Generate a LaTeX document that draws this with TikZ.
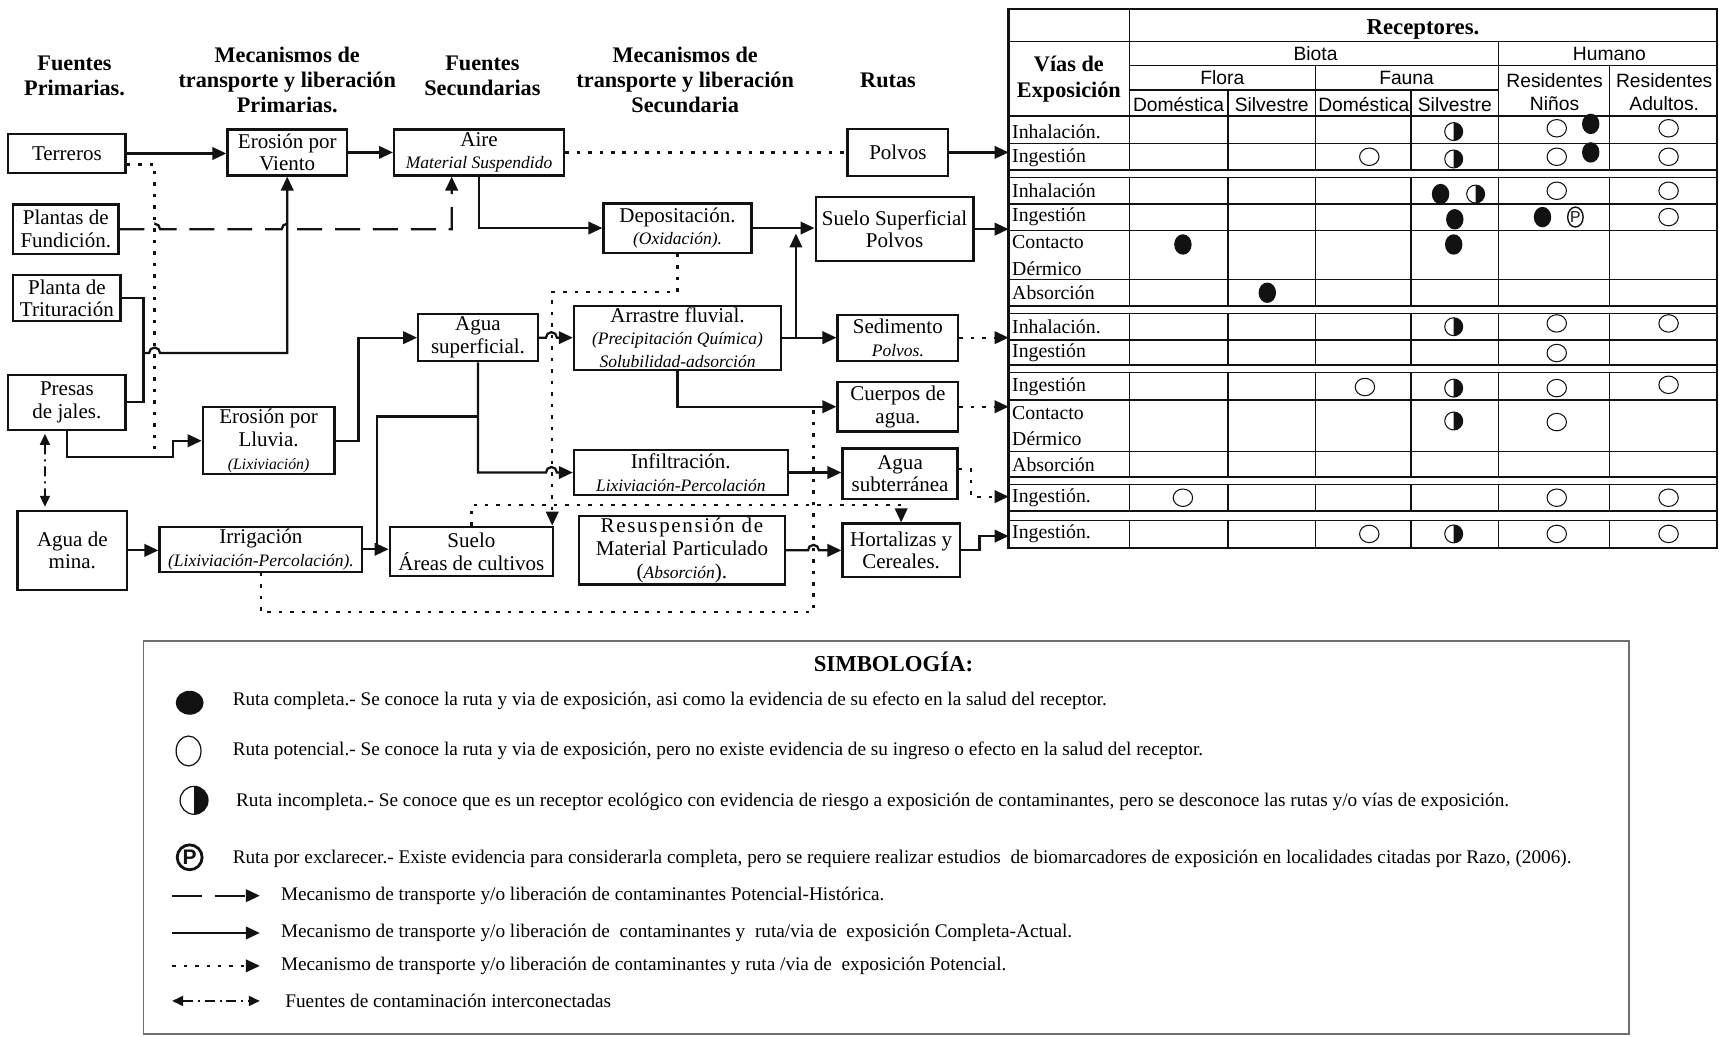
\documentclass[tikz,border=0pt]{standalone}
\usepackage{fontspec}
\setmainfont{Liberation Serif}
\setsansfont{Liberation Sans}
\usepackage{tikz}
\usetikzlibrary{arrows.meta,calc}
\definecolor{ink}{HTML}{121212}
\definecolor{lgry}{HTML}{6F6F6F}
\newcommand{\fsz}[2]{\fontsize{#1}{#2}\selectfont}
\newcommand{\subtx}[1]{{\itshape\fsz{10}{11}#1}}
\newcommand{\symfull}[1]{\fill[ink] (#1) ellipse [x radius=1.75mm, y radius=2.05mm];}
\newcommand{\symopen}[1]{\draw[ink, line width=0.6pt] (#1) ellipse [x radius=1.95mm, y radius=1.75mm];}
\newcommand{\symhalf}[1]{\draw[ink, line width=0.6pt, fill=white] (#1) circle [radius=1.8mm];
  \fill[ink] (#1) ++(90:1.8mm) arc [start angle=90, end angle=-90, radius=1.8mm] -- cycle;}
\newcommand{\symp}[1]{\draw[ink, line width=0.8pt] (#1) ellipse [x radius=1.55mm, y radius=2mm]
  node[font=\sffamily\fsz{9}{9}] {P};}
\tikzset{
  box/.style   ={draw=ink, line width=1.3pt, align=center, inner sep=1pt,
                 font=\fsz{12}{13}},
  sz/.style 2 args={minimum width=#1*0.022cm, minimum height=#2*0.022cm},
  head/.style  ={align=center, font=\bfseries\fsz{12.7}{14.4}},
  hd/.style    ={align=center, font=\sffamily\fsz{11}{13}},
  rowl/.style  ={anchor=west, inner sep=0pt, font=\fsz{11.3}{12}},
  lgtx/.style  ={anchor=west, inner sep=0pt, font=\fsz{11}{12}},
  link/.style  ={line width=1.3pt, draw=ink},
  flow/.style  ={link, -{Triangle[length=2.8mm,width=2.5mm]}},
  plink/.style ={link, dash pattern=on 0.7mm off 1.6mm},
  pflow/.style ={flow, dash pattern=on 0.7mm off 1.6mm},
  hflow/.style ={flow, dash pattern=on 5mm off 2.6mm},
  iflow/.style ={line width=1pt, draw=ink, dash pattern=on 2mm off 1mm on 0.4mm off 1mm,
                 {Triangle[length=2.2mm,width=2mm]}-{Triangle[length=2.2mm,width=2mm]}},
  grid/.style  ={line width=0.8pt, draw=ink},
  frame/.style ={line width=1.4pt, draw=ink},
}
\begin{document}
\begin{tikzpicture}[x=0.022cm, y=-0.022cm]
  \useasboundingbox (0,0) rectangle (1568,945);

  \node[head] (hfp) at (68,69)  {Fuentes\\Primarias.};
  \node[head] (hmp) at (262,73) {Mecanismos de\\transporte y liberación\\Primarias.};
  \node[head] (hfs) at (440,69) {Fuentes\\Secundarias};
  \node[head] (hms) at (625,73) {Mecanismos de\\transporte y liberación\\Secundaria};
  \node[head] (hru) at (810,73) {Rutas};

  \node[box, sz={107}{36}] (ter)  at (61,140)  {Terreros};
  \node[box, sz={96}{45}]  (fun)  at (60,209)  {Plantas de\\Fundición.};
  \node[box, sz={98}{42}]  (tri)  at (61,272)  {Planta de\\Trituración};
  \node[box, sz={107}{50}] (pre)  at (61,367)  {Presas\\de jales.};
  \node[box, sz={100}{72}] (amin) at (66,502)  {Agua de\\mina.};
  \node[box, sz={109}{42}] (vie)  at (262,139) {Erosión por\\Viento};
  \node[box, sz={120}{56}] (llu)  at (245,402) {Erosión por\\Lluvia.\\{\itshape\fsz{9}{10}(Lixiviación)}};
  \node[box, sz={185}{41}] (irr)  at (238,501) {Irrigación\\\subtx{(Lixiviación-Percolación).}};
  \node[box, sz={155}{42}] (aire) at (437,139) {Aire\\\subtx{Material Suspendido}};
  \node[box, sz={109}{43}] (asup) at (436,308) {Agua\\superficial.};
  \node[box, sz={149}{45}] (scul) at (430,503) {Suelo\\Áreas de cultivos};
  \node[box, sz={135}{45}] (dep)  at (618,208) {Depositación.\\\subtx{(Oxidación).}};
  \node[box, sz={189}{57}] (arr)  at (618,308) {Arrastre fluvial.\\\subtx{(Precipitación Química)}\\\subtx{Solubilidad-adsorción}};
  \node[box, sz={195}{41}] (inf)  at (621,431) {Infiltración.\\\subtx{Lixiviación-Percolación}};
  \node[box, sz={188}{60}] (res)  at (622,502) {{\addfontfeature{LetterSpace=8}Resuspensión de}\\Material Particulado\\(\subtx{Absorción}).};
  \node[box, sz={92}{43}]  (pol)  at (819,139) {Polvos};
  \node[box, sz={144}{58}] (ssup) at (816,209) {Suelo Superficial\\Polvos};
  \node[box, sz={110}{42}] (sed)  at (819,308) {Sedimento\\\subtx{Polvos.}};
  \node[box, sz={110}{45}] (cue)  at (819,371) {Cuerpos de\\agua.};
  \node[box, sz={105}{46}] (asub) at (821,432) {Agua\\subterránea};
  \node[box, sz={107}{49}] (hor)  at (822,502) {Hortalizas y\\Cereales.};

  \coordinate (jA) at (726,308);
  \coordinate (v1) at (920,139);
  \coordinate (v2) at (920,209);
  \coordinate (v3) at (920,308);
  \coordinate (v4) at (920,371);
  \coordinate (v5) at (920,453);
  \coordinate (v6) at (920,489);

  \draw[flow]  (ter.east) -- (ter.east -| vie.west);
  \draw[plink] ($(ter.east)+(0,10)$) -- (141,150) -- (141,417);
  \draw[hflow] (fun.east) -- (136,209) arc [start angle=180, end angle=0, radius=1.1mm]
               -- (257,209) arc [start angle=180, end angle=0, radius=1.1mm]
               -- (412,209) -- (412,209 |- aire.south);
  \draw[link]  (tri.east) -| (131,367) -- (pre.east);
  \draw[flow]  (131,322) -- (136,322) arc [start angle=180, end angle=0, radius=1.1mm]
               -- (262,322) -- (vie.south);
  \draw[flow]  (pre.south) -- (61,417) -- (158,417) |- (llu.west);
  \draw[iflow] ([xshift=-4.4mm,yshift=-0.6mm]pre.south) -- ([xshift=-5.5mm,yshift=0.6mm]amin.north);
  \draw[flow]  (amin.east) -- (amin.east -| irr.west);
  \draw[flow]  (irr.east) -- (irr.east -| scul.west);
  \draw[flow]  (llu.east) -- ++(21,0) |- (asup.west);
  \draw[link]  (asup.south |- 0,380) -- (344,380) -- (344,501);
  \draw[flow]  (asup.south) -- (436,431) -- (498,431) arc [start angle=180, end angle=0, radius=1.1mm]
               -- (inf.west);
  \draw[flow]  (asup.east) -- (498,308) arc [start angle=180, end angle=0, radius=1.1mm] -- (arr.west);
  \draw[flow]  (vie.east) -- (aire.west);
  \draw[flow]  (aire.south) |- (dep.west);
  \draw[plink] (aire.east) -- (pol.west);
  \draw[flow]  (dep.east) -- (dep.east -| ssup.west);
  \draw[flow]  (arr.east) -- (sed.west);
  \draw[flow]  (jA) -- (jA |- 0,213);
  \draw[flow]  (arr.south) |- (cue.west);
  \draw[pflow] (dep.south) -- ++(0,35) -| ([xshift=-0.4mm]scul.north east);
  \draw[pflow] (scul.north) -- ++(0,-19) -| (hor.north);
  \draw[plink] (irr.south) -- ++(0,36) -| (742,374);
  \draw[flow]  (res.east) -- (737,502) arc [start angle=180, end angle=0, radius=1.1mm] -- (hor.west);
  \draw[flow]  (inf.east) -- (inf.east -| asub.west);

  \draw[flow]  (pol.east) -- (v1);
  \draw[flow]  (ssup.east) -- (v2);
  \draw[pflow] (sed.east) -- (v3);
  \draw[pflow] (cue.east) -- (v4);
  \draw[pflow] ([yshift=0.9mm]asub.east) -- ++(11,0) |- (v5);
  \draw[flow]  (hor.east) -- ++(17,0) |- (v6);

  \draw[grid] (920,38) -- (1566,38) (1030,60) -- (1566,60) (1030,82) -- (1367,82);
  \draw[grid] (1030,8) -- (1030,106) (1367,38) -- (1367,106) (1200,60) -- (1200,106)
              (1468,60) -- (1468,106) (1120,82) -- (1120,106) (1287,82) -- (1287,106);
  \foreach \a/\b in {106/155,162/279,286/333,340/435,442/466,475/500}{
    \draw[grid] (920,\a) -- (1566,\a) (920,\b) -- (1566,\b);
    \foreach \c in {1030,1120,1200,1287,1367,1468} \draw[grid] (\c,\a) -- (\c,\b);
  }
  \foreach \r in {131,186,210,255,310,365,412} \draw[grid] (920,\r) -- (1566,\r);
  \draw[frame] (920,106) -- (1566,106);
  \draw[frame] (920,8) rectangle (1566,500);

  \node[font=\bfseries\fsz{13}{14}] (rec) at (1298,27) {Receptores.};
  \node[font=\bfseries\fsz{12.7}{15}, align=center] (via) at (975,72) {Vías de\\Exposición};
  \node[hd] (bio) at (1200,49) {Biota};
  \node[hd] (hum) at (1468,49) {Humano};
  \node[hd] (flo) at (1115,71) {Flora};
  \node[hd] (fau) at (1283,71) {Fauna};
  \node[hd] (rni) at (1418,84) {Residentes\\Niños};
  \node[hd] (rad) at (1518,84) {Residentes\\Adultos.};
  \node[hd] (fdo) at (1075,95) {Doméstica};
  \node[hd] (fsi) at (1160,95) {Silvestre};
  \node[hd] (ado) at (1244,95) {Doméstica};
  \node[hd] (asi) at (1327,95) {Silvestre};

  \foreach \t/\y [count=\i] in {Inhalación./120, Ingestión/144, Inhalación/174, Ingestión/198,
      Contacto/221, Dérmico/245, Absorción/267, Inhalación./298, Ingestión/322, Ingestión/353,
      Contacto/377, Dérmico/400, Absorción/424, Ingestión./454, Ingestión./487}
    \node[rowl] (r\i) at (923,\y) {\t};

  \symhalf{1326,120} \symopen{1420,117} \symfull{1451,113} \symopen{1522,117}
  \symopen{1249,143} \symhalf{1326,145} \symopen{1420,143} \symfull{1451,139} \symopen{1522,143}
  \symfull{1314,177} \symhalf{1346,177} \symopen{1420,174} \symopen{1522,174}
  \symfull{1327,200} \symfull{1407,198} \symp{1437,198} \symopen{1522,198}
  \symfull{1079,223} \symfull{1326,223}
  \symfull{1156,267}
  \symhalf{1326,298} \symopen{1420,295} \symopen{1522,295}
  \symopen{1420,322}
  \symopen{1245,353} \symhalf{1326,354} \symopen{1420,354} \symopen{1522,351}
  \symhalf{1326,384} \symopen{1420,385}
  \symopen{1079,454} \symopen{1420,454} \symopen{1522,454}
  \symopen{1249,487} \symhalf{1326,487} \symopen{1420,487} \symopen{1522,487}

  \draw[lgry, line width=1pt] (131,585) rectangle (1486,943);
  \node[font=\bfseries\fsz{13}{14}] (simb) at (815,604) {SIMBOLOGÍA:};
  \fill[ink] (173,641) ellipse [x radius=2.8mm, y radius=2.4mm];
  \draw[ink, line width=0.7pt] (172,685) ellipse [x radius=2.5mm, y radius=3mm];
  \draw[ink, line width=0.7pt] (177,730) circle [radius=2.8mm];
  \fill[ink] (177,730) ++(90:2.8mm) arc [start angle=90, end angle=-90, radius=2.8mm] -- cycle;
  \draw[ink, line width=1.6pt] (173,782) circle [radius=2.5mm]
    node[font=\sffamily\bfseries\fsz{12}{12}] {P};
  \node[lgtx] (l1) at (212,639) {Ruta completa.- Se conoce la ruta y via de exposición, asi como la evidencia de su efecto en la salud del receptor.};
  \node[lgtx] (l2) at (212,685) {Ruta potencial.- Se conoce la ruta y via de exposición, pero no existe evidencia de su ingreso o efecto en la salud del receptor.};
  \node[lgtx] (l3) at (215,731) {Ruta incompleta.- Se conoce que es un receptor ecológico con evidencia de riesgo a exposición de contaminantes, pero se desconoce las rutas y/o vías de exposición.};
  \node[lgtx] (l4) at (212,783) {Ruta por exclarecer.- Existe evidencia para considerarla completa, pero se requiere realizar estudios\ \ de biomarcadores de exposición en localidades citadas por Razo, (2006).};
  \node[lgtx] (l5) at (256,817) {Mecanismo de transporte y/o liberación de contaminantes Potencial-Histórica.};
  \node[lgtx] (l6) at (256,851) {Mecanismo de transporte y/o liberación de\ \ contaminantes y\ \ ruta/via de\ \ exposición Completa-Actual.};
  \node[lgtx] (l7) at (256,881) {Mecanismo de transporte y/o liberación de contaminantes y ruta /via de\ \ exposición Potencial.};
  \node[lgtx] (l8) at (260,913) {Fuentes de contaminación interconectadas};
  \draw[hflow, dash pattern=on 6mm off 2.6mm] (157,817) -- (l5.west -| 237,0);
  \draw[flow]  (157,851) -- (l6.west -| 237,0);
  \draw[pflow] (157,881) -- (l7.west -| 237,0);
  \draw[iflow] (157,913) -- (l8.west -| 237,0);
\end{tikzpicture}
\end{document}
